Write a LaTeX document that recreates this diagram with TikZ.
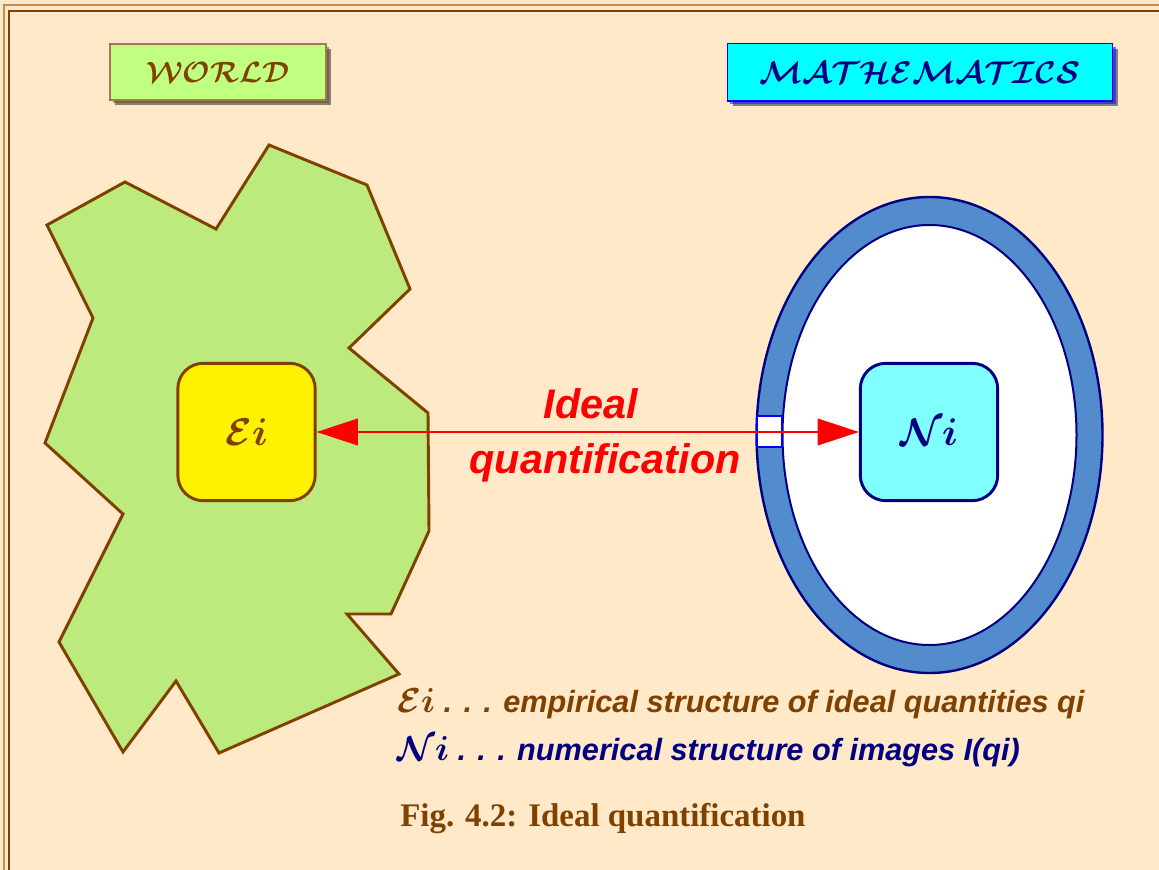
\documentclass[tikz,border=0pt]{standalone}
\usepackage{fix-cm}
\usepackage{fontspec}
\setmainfont{Liberation Serif}
\setsansfont{Liberation Sans}
\usepackage{bm}
\usetikzlibrary{arrows.meta,shadows}

\definecolor{peach}{RGB}{255,233,201}
\definecolor{framebrown}{RGB}{200,140,80}
\definecolor{brownline}{RGB}{128,64,0}
\definecolor{worldgreen}{RGB}{192,255,128}
\definecolor{areagreen}{RGB}{188,234,124}
\definecolor{ringblue}{RGB}{82,140,204}
\definecolor{navy}{RGB}{0,0,128}
\definecolor{lightcyan}{RGB}{128,255,255}
\definecolor{titlecyan}{RGB}{0,255,255}
\definecolor{titleblue}{RGB}{0,0,255}

\newcommand{\scrtext}[1]{$\bm{\mathcal{#1}}$}

\begin{document}
\begin{tikzpicture}
  [x=0.75pt,y=-0.75pt,
   titlebox/.style={line width=1pt,inner sep=0pt,
     drop shadow={shadow xshift=4pt,shadow yshift=-4pt,opacity=1}},
   blob/.style={rounded corners=19pt,line width=2.2pt,minimum size=103pt,inner sep=0pt},
   redlabel/.style={red,font=\fontsize{31}{36}\selectfont\sffamily\bfseries\itshape,anchor=base},
   legend/.style={anchor=base west,inner sep=0pt,font=\fontsize{23}{28}\selectfont\sffamily\bfseries\itshape}]

  % fond et cadre
  \fill[peach] (0,0) rectangle (1159,870);
  \useasboundingbox (0,0) rectangle (1159,870);
  \draw[framebrown,line width=1pt] (4,870) |- (1159,5);
  \draw[brownline,line width=1pt] (9,870) |- (1159,11);

  % titres
  \node[titlebox,draw=brownline!70,fill=worldgreen,drop shadow={fill=brownline},
    minimum width=162pt,minimum height=42pt] (world) at (218,72)
    {\fontsize{22}{26}\selectfont\color{brownline}\scrtext{WORLD}};
  \node[titlebox,draw=titleblue,fill=titlecyan,drop shadow={fill=titleblue},
    minimum width=289pt,minimum height=43pt] (maths) at (920,72.5)
    {\fontsize{23.5}{28}\selectfont\color{navy}\scrtext{MATHEMATICS}};

  % le monde
  \draw[brownline,fill=areagreen,line width=2.2pt,line join=miter]
    plot coordinates {(47,225) (125,182) (216,229) (269,145) (367,185) (410,289)
      (349,348) (428,413) (429,531) (391,614) (347,614) (399,674) (219,753)
      (176,681) (123,752) (59,642) (123,514) (45,443) (93,318)} -- cycle;

  % les mathematiques
  \draw[navy,fill=ringblue,line width=1.8pt] (929.5,435) ellipse [x radius=173,y radius=238];
  \draw[navy,fill=white,line width=1.5pt] (929.5,435) ellipse [x radius=147,y radius=210];
  \draw[titleblue,fill=white,line width=0.8pt] (757,416) rectangle (782,447);

  \node[blob,draw=brownline,fill=yellow] (ei) at (246.5,432)
    {\fontsize{29}{34}\selectfont\color{brownline}$\bm{\mathcal{E}i}$};
  \node[blob,draw=navy,fill=lightcyan] (ni) at (929,432)
    {\fontsize{29}{34}\selectfont\color{navy}$\bm{\mathcal{N}i}$};

  \draw[red,line width=1.5pt,{Triangle[length=31pt,width=20pt]}-{Triangle[length=31pt,width=20pt]}]
    (ei) -- (ni);

  \node[redlabel] (ideal) at (591,418) {Ideal};
  \node[redlabel] (quant) at (605,473) {quantification};

  % legende
  \node[legend,text=brownline] (lege) at (397,712)
    {{\fontsize{26}{30}\selectfont$\bm{\mathcal{E}i}$} . . . empirical structure of ideal quantities qi};
  \node[legend,text=navy] (legn) at (397,760)
    {{\fontsize{26}{30}\selectfont$\bm{\mathcal{N}i}$} . . . numerical structure of images I(qi)};

  \node[anchor=base west,inner sep=0pt,text=brownline,font=\fontsize{24.7}{30}\selectfont\bfseries]
    (caption) at (400,826) {Fig. 4.2: Ideal quantification};
\end{tikzpicture}
\end{document}
